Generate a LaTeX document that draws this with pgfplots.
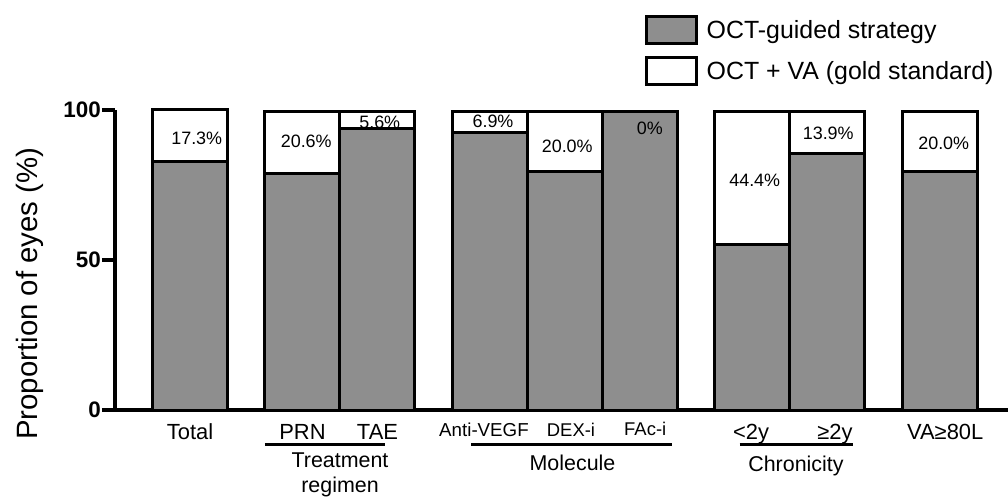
\documentclass[border=0pt]{standalone}
\usepackage{pgfplots}
\pgfplotsset{compat=1.18}
\usepackage{fontspec}
\setmainfont{Liberation Sans}
\usetikzlibrary{calc}
\definecolor{bargrey}{RGB}{142,142,142}
\newcommand{\fs}[1]{\fontsize{#1}{#1}\selectfont}
\begin{document}
\begin{tikzpicture}
\begin{axis}[
  name=ax,
  scale only axis,
  width=893bp, height=300bp,
  xmin=-1, xmax=10.907,
  ymin=0, ymax=100,
  clip=false,
  axis x line=bottom, axis y line=left,
  axis line style={-, line width=4bp, black},
  ytick={0,50,100},
  tick align=outside,
  major tick length=13bp,
  ytick style={line width=3.5bp, black},
  xtick style={draw=none},
  /pgf/number format/assume math mode=true,
  yticklabel style={font=\fs{22.5}\bfseries, inner sep=1bp},
  xtick={0,1.5,2.5,3.92,5.08,6.07,7.48,8.6,10.07},
  xticklabels={Total, PRN, TAE, {\fs{18.8}\raisebox{3bp}{Anti-VEGF}}, {\fs{18.5}\raisebox{3bp}{DEX-i}}, {\fs{18.5}\raisebox{4bp}{FAc-i}}, <2y, ≥2y, VA≥80L},
  xticklabel style={font=\fs{22}, anchor=base, yshift=-16bp},
  ylabel={Proportion of eyes (\%)},
  ylabel style={font=\fs{29.5}, at={(axis description cs:-0.0873,0.388)}, anchor=base},
  legend cell align=left,
  legend style={at={(axis description cs:0.5935,1.3167)}, anchor=north west, draw=none, fill=none, font=\fs{25}, inner sep=0pt, row sep=11bp},
  legend image code/.code={\draw[#1, line width=3bp] (0bp,-13.5bp) rectangle (50bp,13.5bp); \path[draw=none, fill=none] (50bp,0bp) -- (58bp,0bp);},
]
% white (top) boxes drawn as full-height bars
\addplot[ybar, bar width=1, bar shift=0pt, fill=white, draw=black, line width=3bp, forget plot]
  coordinates {(0,100) (1.5,99.5) (2.5,99.5) (4,99.5) (5,99.5) (6,99.5) (7.5,99.5) (8.5,99.5) (10,99.5)};
% grey (OCT-guided) part
\addplot[ybar, bar width=1, bar shift=0pt, fill=bargrey, draw=black, line width=3bp, forget plot]
  coordinates {(0,82.7) (1.5,78.9) (2.5,93.9) (4,92.6) (5,79.5) (6,99.5) (7.5,55.1) (8.5,85.6) (10,79.5)};
% percentage labels of the white part
\addplot[only marks, mark=none, nodes near coords, point meta=explicit symbolic,
  nodes near coords style={font=\fs{18}, anchor=center, inner sep=0pt}, forget plot]
  coordinates {(0.09,90.7)[17.3\%] (1.55,89.7)[20.6\%] (2.53,96)[5.6\%] (4.04,96.3)[6.9\%]
    (5.03,88)[20.0\%] (6.13,94)[0\%] (7.53,76.7)[44.4\%] (8.51,92.3)[13.9\%] (10.05,89)[20.0\%]};
\addlegendimage{fill=bargrey, draw=black}
\addlegendentry{OCT-guided strategy}
\addlegendimage{fill=white, draw=black}
\addlegendentry{OCT + VA (gold standard)}
% group labels
\draw[line width=3bp] (axis cs:1.0,-11.5) -- (axis cs:2.6,-11.5);
\draw[line width=3bp] (axis cs:3.75,-11.5) -- (axis cs:6.43,-11.5);
\draw[line width=3bp] (axis cs:7.33,-11.5) -- (axis cs:8.84,-11.5);
\node[font=\fs{21.5}, anchor=base] at (axis cs:2.0,-19.3) {Treatment};
\node[font=\fs{21.5}, anchor=base] at (axis cs:2.0,-27.5) {regimen};
\node[font=\fs{21.5}, anchor=base] at (axis cs:5.1,-20.2) {Molecule};
\node[font=\fs{21.5}, anchor=base] at (axis cs:8.08,-20.5) {Chronicity};
\end{axis}
\pgfresetboundingbox
\useasboundingbox ($(ax.south west)+(-115bp,-87bp)$) rectangle ($(ax.north east)+(0bp,110bp)$);
\end{tikzpicture}
\end{document}
